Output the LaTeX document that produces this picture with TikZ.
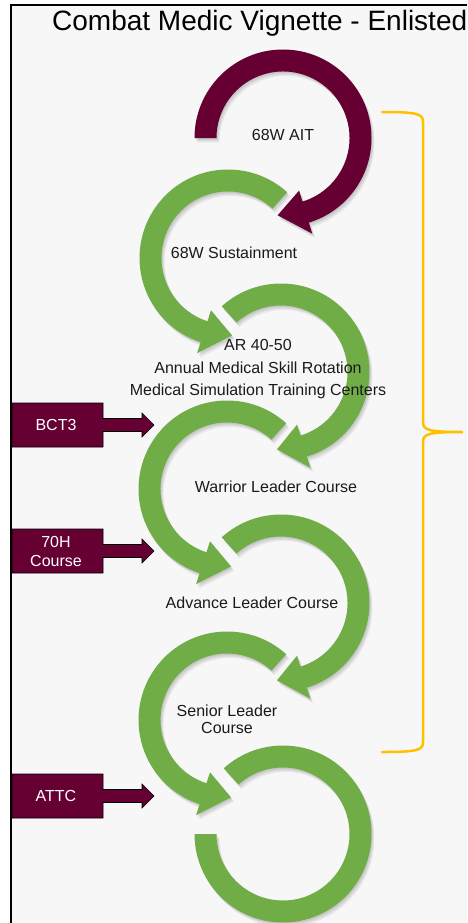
\documentclass[tikz,border=0pt]{standalone}
\usepackage{fontspec}
\setmainfont{Liberation Sans}
\definecolor{maroon}{HTML}{660033}
\definecolor{grn}{HTML}{70AD47}
\definecolor{bgc}{HTML}{F7F7F7}
\definecolor{bracec}{HTML}{FFC000}
\definecolor{txt}{HTML}{1A1A1A}
% curved arrow: options, cx, cy, start angle, end angle, tip angle
\newcommand{\carc}[6]{\fill[#1,shift={(#2,#3)}] (#4:88.5) arc[start angle=#4,end angle=#5,radius=88.5] -- (#5:100) -- (#6:77.5) -- (#5:55) -- (#5:66.5) arc[start angle=#5,end angle=#4,radius=66.5] -- cycle;}
% box with arrow: centre y
\newcommand{\boxarrow}[1]{\filldraw[boxarr,yshift=#1pt] (12,22) -- (103,22) -- (103,6.5) -- (142,6.5) -- (142,12) -- (154,0) -- (142,-12) -- (142,-6.5) -- (103,-6.5) -- (103,-22) -- (12,-22) -- cycle;}
\newcommand{\allarcs}[1]{%
\carc{#1}{283}{-138}{180}{-73}{-94}
\carc{#1}{228}{-258}{48}{252}{273}
\carc{#1}{281}{-372}{132}{-73}{-93}
\carc{#1}{227}{-489}{48}{252}{273}
\carc{#1}{281}{-603}{132}{-73}{-93}
\carc{#1}{227}{-720}{48}{252}{273}
\fill[#1,shift={(283,-834)}] (132:88.5) arc[start angle=132,end angle=-180,radius=88.5] -- (-180:66.5) arc[start angle=-180,end angle=132,radius=66.5] -- cycle;}
\tikzset{
  lbl/.style={inner sep=0pt,text=txt,font=\fontsize{16}{17}\selectfont,align=center},
  boxlbl/.style={inner sep=0pt,text=white,font=\fontsize{16}{19}\selectfont,align=center},
  boxarr/.style={fill=maroon,draw=black,line width=0.6pt},
  shda/.style={black,opacity=0.07,xshift=1pt,yshift=-1.5pt},
  shdb/.style={black,opacity=0.07,xshift=2pt,yshift=-3pt},
  shdc/.style={black,opacity=0.06,xshift=3pt,yshift=-4.5pt}
}
\begin{document}
\begin{tikzpicture}[x=1pt,y=1pt]
\useasboundingbox (0,0) rectangle (467,-923);
\fill[white] (0,0) rectangle (467,-923);
\fill[bgc] (11,-5) rectangle (467,-923);
\draw[black,line width=1.2pt] (11,-923) -- (11,-5) -- (467,-5);

\node[anchor=base west,inner sep=0pt,text=black,font=\fontsize{28}{30}\selectfont] (title) at (52,-31) {Combat Medic Vignette - Enlisted};

% soft shadows
\allarcs{shdc}
\allarcs{shdb}
\allarcs{shda}

% arrows
\carc{maroon}{283}{-138}{180}{-73}{-94}
\carc{grn}{228}{-258}{48}{252}{273}
\carc{grn}{281}{-372}{132}{-73}{-93}
\carc{grn}{227}{-489}{48}{252}{273}
\carc{grn}{281}{-603}{132}{-73}{-93}
\carc{grn}{227}{-720}{48}{252}{273}
\fill[grn,shift={(283,-834)}] (132:88.5) arc[start angle=132,end angle=-180,radius=88.5] -- (-180:66.5) arc[start angle=-180,end angle=132,radius=66.5] -- cycle;

% labels
\node[lbl] (ait) at (283,-135) {68W AIT};
\node[lbl] (sus) at (234,-253) {68W Sustainment};
\node[lbl,font=\fontsize{16}{22.5}\selectfont] (ar) at (258,-369.5) {AR 40-50\\Annual Medical Skill Rotation\\Medical Simulation Training Centers};
\node[lbl] (wlc) at (276,-487) {Warrior Leader Course};
\node[lbl] (alc) at (252,-603) {Advance Leader Course};
\node[lbl] (slc) at (227,-719.5) {Senior Leader\\Course};

% box arrows
\boxarrow{-425}
\boxarrow{-551}
\boxarrow{-796}
\node[boxlbl] (bct) at (56,-425) {BCT3};
\node[boxlbl] (h70) at (56,-551) {70H\\Course};
\node[boxlbl] (attc) at (56,-796) {ATTC};

% brace
\draw[bracec,line width=2.5pt,line cap=round] (382,-112) .. controls (418,-112) and (423,-114) .. (423,-122) -- (423,-422) .. controls (423,-430) and (428,-432) .. (463,-432) .. controls (428,-432) and (423,-434) .. (423,-442) -- (423,-742) .. controls (423,-750) and (418,-752) .. (382,-752);
\end{tikzpicture}
\end{document}
